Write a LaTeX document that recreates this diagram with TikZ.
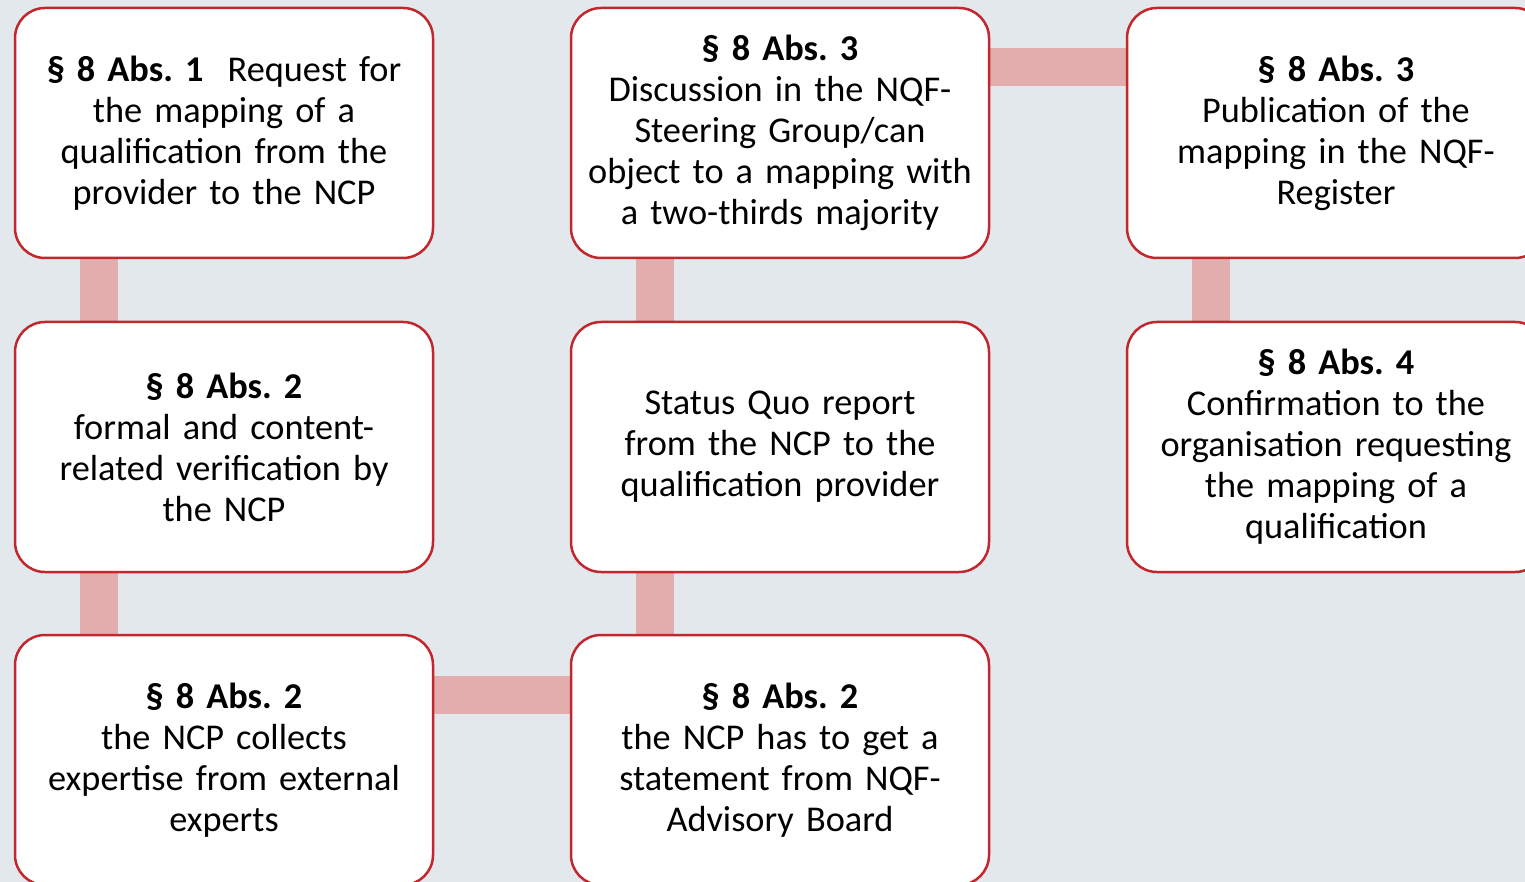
\documentclass[tikz,border=0pt]{standalone}
\usepackage{fontspec}
\setmainfont{Carlito}
\definecolor{bgc}{HTML}{E3E8EC}
\definecolor{boxred}{HTML}{C1272D}
\definecolor{barc}{HTML}{E3ADAE}
\pgfdeclarelayer{bg}
\pgfsetlayers{bg,main}
\tikzset{
  stepbox/.style={rectangle, rounded corners=30pt, draw=boxred, line width=2.5pt, fill=white,
    minimum width=418pt, minimum height=250pt, text width=410pt, align=center, inner sep=0pt,
    font=\fontsize{36.3}{41}\selectfont},
  bar/.style={barc, line width=38pt, line cap=butt}
}
\begin{document}
\frenchspacing
\begin{tikzpicture}[x=1pt,y=-1pt]
\begin{pgfonlayer}{bg}
\fill[bgc] (0,0) rectangle (1525,882);
\end{pgfonlayer}
\useasboundingbox (0,0) rectangle (1525,882);
\node[stepbox] (a1) at (224,133) {\textbf{§ 8 Abs. 1}\ \ Request for\\the mapping of a\\qualification from the\\provider to the NCP};
\node[stepbox] (a2) at (224,447) {\textbf{§ 8 Abs. 2}\\formal and content-\\related verification by\\the NCP};
\node[stepbox] (a3) at (224,760) {\textbf{§ 8 Abs. 2}\\the NCP collects\\expertise from external\\experts};
\node[stepbox] (b3) at (780,760) {\textbf{§ 8 Abs. 2}\\the NCP has to get a\\statement from NQF-\\Advisory Board};
\node[stepbox] (b2) at (780,447) {Status Quo report\\from the NCP to the\\qualification provider};
\node[stepbox] (b1) at (780,133) {\textbf{§ 8 Abs. 3}\\Discussion in the NQF-\\Steering Group/can\\object to a mapping with\\a two-thirds majority};
\node[stepbox] (c1) at (1336,133) {\textbf{§ 8 Abs. 3}\\Publication of the\\mapping in the NQF-\\Register};
\node[stepbox] (c2) at (1336,447) {\textbf{§ 8 Abs. 4}\\Confirmation to the\\organisation requesting\\the mapping of a\\qualification};
\begin{pgfonlayer}{bg}
\draw[bar] ([xshift=85pt]a1.south west) -- ([xshift=85pt]a2.north west);
\draw[bar] ([xshift=85pt]a2.south west) -- ([xshift=85pt]a3.north west);
\draw[bar] ([yshift=-61.5pt]a3.north east) -- ([yshift=-61.5pt]b3.north west);
\draw[bar] ([xshift=85pt]b3.north west) -- ([xshift=85pt]b2.south west);
\draw[bar] ([xshift=85pt]b2.north west) -- ([xshift=85pt]b1.south west);
\draw[bar] ([yshift=-60.5pt]b1.north east) -- ([yshift=-60.5pt]c1.north west);
\draw[bar] ([xshift=85pt]c1.south west) -- ([xshift=85pt]c2.north west);
\end{pgfonlayer}
\end{tikzpicture}
\end{document}
